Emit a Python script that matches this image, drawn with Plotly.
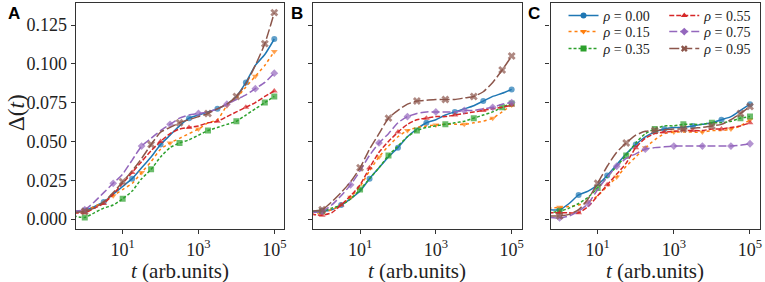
import plotly.graph_objects as go

# time grid (arb. units)
T = [0.5, 1, 1.78, 3.16, 5.62, 10, 17.8, 31.6, 56.2, 100, 178, 316, 562,
     1000, 1780, 3160, 5620, 10000, 17800, 31600, 56200, 100000]

RHO_LABELS = ["0.00", "0.15", "0.35", "0.55", "0.75", "0.95"]

# Panel A
A_000 = [0.005, 0.0055, 0.008, 0.011, 0.016, 0.021, 0.026, 0.033, 0.040, 0.048, 0.054, 0.060, 0.065, 0.067, 0.069, 0.071, 0.074, 0.079, 0.088, 0.099, 0.106, 0.116]
A_015 = [0.005, 0.0055, 0.008, 0.011, 0.015, 0.019, 0.023, 0.030, 0.037, 0.045, 0.049, 0.052, 0.055, 0.058, 0.062, 0.064, 0.073, 0.078, 0.085, 0.092, 0.099, 0.108]
A_035 = [0.002, 0.001, 0.004, 0.007, 0.009, 0.013, 0.018, 0.026, 0.032, 0.040, 0.046, 0.049, 0.051, 0.054, 0.057, 0.059, 0.061, 0.063, 0.067, 0.071, 0.075, 0.079]
A_055 = [0.004, 0.004, 0.007, 0.010, 0.016, 0.023, 0.030, 0.037, 0.044, 0.050, 0.055, 0.058, 0.059, 0.060, 0.062, 0.063, 0.066, 0.069, 0.072, 0.075, 0.079, 0.0825]
A_075 = [0.005, 0.006, 0.011, 0.017, 0.023, 0.029, 0.038, 0.047, 0.052, 0.057, 0.061, 0.065, 0.067, 0.068, 0.069, 0.071, 0.074, 0.077, 0.080, 0.084, 0.088, 0.094]
A_095 = [0.004, 0.005, 0.007, 0.011, 0.017, 0.024, 0.031, 0.039, 0.048, 0.056, 0.059, 0.062, 0.064, 0.066, 0.068, 0.071, 0.074, 0.079, 0.087, 0.099, 0.113, 0.133]

# Panel B
B_000 = [0.005, 0.005, 0.006, 0.009, 0.013, 0.018, 0.026, 0.033, 0.040, 0.046, 0.053, 0.058, 0.062, 0.064, 0.067, 0.069, 0.071, 0.073, 0.076, 0.079, 0.081, 0.0835]
B_015 = [0.004, 0.004, 0.006, 0.009, 0.014, 0.021, 0.031, 0.040, 0.047, 0.053, 0.057, 0.059, 0.060, 0.0605, 0.061, 0.061, 0.061, 0.062, 0.063, 0.065, 0.069, 0.0735]
B_035 = [0.005, 0.005, 0.007, 0.009, 0.013, 0.019, 0.026, 0.033, 0.041, 0.047, 0.053, 0.057, 0.059, 0.060, 0.061, 0.062, 0.063, 0.065, 0.067, 0.069, 0.072, 0.0745]
B_055 = [0.003, 0.0025, 0.004, 0.009, 0.015, 0.022, 0.033, 0.043, 0.050, 0.056, 0.061, 0.064, 0.065, 0.066, 0.066, 0.067, 0.068, 0.069, 0.070, 0.071, 0.072, 0.0735]
B_075 = [0.004, 0.005, 0.009, 0.015, 0.022, 0.031, 0.041, 0.049, 0.055, 0.062, 0.066, 0.068, 0.069, 0.069, 0.069, 0.069, 0.070, 0.070, 0.071, 0.072, 0.074, 0.075]
B_095 = [0.005, 0.006, 0.011, 0.017, 0.024, 0.033, 0.045, 0.055, 0.065, 0.070, 0.074, 0.076, 0.0765, 0.077, 0.077, 0.077, 0.078, 0.079, 0.082, 0.088, 0.096, 0.105]

# Panel C
C_000 = [0.006, 0.006, 0.010, 0.0155, 0.018, 0.022, 0.028, 0.035, 0.042, 0.048, 0.053, 0.056, 0.058, 0.059, 0.059, 0.060, 0.061, 0.062, 0.064, 0.066, 0.070, 0.074]
C_015 = [0.007, 0.0075, 0.008, 0.009, 0.011, 0.015, 0.021, 0.027, 0.034, 0.040, 0.046, 0.051, 0.055, 0.056, 0.056, 0.056, 0.056, 0.057, 0.057, 0.058, 0.060, 0.064]
C_035 = [0.004, 0.005, 0.007, 0.010, 0.014, 0.020, 0.027, 0.034, 0.041, 0.049, 0.055, 0.058, 0.060, 0.060, 0.061, 0.061, 0.061, 0.062, 0.062, 0.063, 0.065, 0.066]
C_055 = [0.004, 0.004, 0.004, 0.004, 0.008, 0.015, 0.022, 0.029, 0.036, 0.046, 0.052, 0.055, 0.056, 0.0565, 0.057, 0.057, 0.057, 0.058, 0.058, 0.059, 0.060, 0.062]
C_075 = [0.001, 0.0007, 0.002, 0.005, 0.010, 0.019, 0.027, 0.034, 0.039, 0.042, 0.045, 0.046, 0.0465, 0.047, 0.047, 0.047, 0.047, 0.047, 0.047, 0.047, 0.0475, 0.0485]
C_095 = [0.002, 0.002, 0.003, 0.006, 0.013, 0.023, 0.034, 0.043, 0.049, 0.054, 0.0565, 0.057, 0.0575, 0.058, 0.058, 0.0585, 0.059, 0.060, 0.061, 0.064, 0.068, 0.0725]

Y_TICKS = [0.000, 0.025, 0.050, 0.075, 0.100, 0.125]
Y_TICKTEXT = ["0.000", "0.025", "0.050", "0.075", "0.100", "0.125"]
X_TICKS = [10, 1000, 100000]
X_TICKTEXT = ["10<sup>1</sup>", "10<sup>3</sup>", "10<sup>5</sup>"]
PANEL_LETTERS = ["A", "B", "C"]

PANELS = [
    [A_000, A_015, A_035, A_055, A_075, A_095],
    [B_000, B_015, B_035, B_055, B_075, B_095],
    [C_000, C_015, C_035, C_055, C_075, C_095],
]

COLORS = ["#1f77b4", "#ff7f0e", "#2ca02c", "#d62728", "#9467bd", "#8c564b"]
DASHES = ["solid", "dot", "3px,2px", "5px,2px", "8px,3px", "10px,3px"]
SYMBOLS = ["circle", "triangle-down", "square", "triangle-up", "diamond", "x"]
MSIZE = 6

W, H = 765, 282
X_DOM = [(76, 285), (314, 523), (552, 762)]
Y_TOP, Y_BOT = 3, 229
SERIF = "'Liberation Serif', 'Times New Roman', serif"

fig = go.Figure()

for p, series in enumerate(PANELS):
    xa = "x" if p == 0 else f"x{p+1}"
    ya = "y" if p == 0 else f"y{p+1}"
    for k, vals in enumerate(series):
        off = k % 3
        marks = set([1, len(T) - 1] + list(range(3 + off, len(T) - 1, 3)))
        sizes = [(MSIZE + (1 if k == 5 else 0)) if i in marks else 0 for i in range(len(T))]
        fig.add_trace(go.Scatter(
            x=T, y=vals, xaxis=xa, yaxis=ya, mode="lines+markers",
            line=dict(color=COLORS[k], width=1.5, dash=DASHES[k], shape="spline", smoothing=0.6),
            marker=dict(symbol=SYMBOLS[k], size=sizes, color=COLORS[k], line=dict(width=0)),
            showlegend=False, hoverinfo="skip"))

# legend entries: one small legend per entry, arranged as 2 columns x 3 rows in panel C
LEG_COL_X = [565, 666]
LEG_ROW_Y = [18, 34, 51]
for k in range(6):
    lname = "legend" if k == 0 else f"legend{k+1}"
    fig.add_trace(go.Scatter(
        x=[None], y=[None], xaxis="x3", yaxis="y3", mode="lines+markers",
        name=f"<i>ρ</i> = {RHO_LABELS[k]}",
        line=dict(color=COLORS[k], width=1.5, dash=DASHES[k]),
        marker=dict(symbol=SYMBOLS[k], size=MSIZE, color=COLORS[k], line=dict(width=0)),
        legend=lname, showlegend=True))

ydom = [1 - Y_BOT / H, 1 - Y_TOP / H]
axis_common = dict(showline=True, mirror=True, linecolor="#333333", linewidth=1.3,
                   ticks="outside", ticklen=4, tickwidth=1, tickcolor="#333333",
                   showgrid=False, zeroline=False,
                   tickfont=dict(family=SERIF, size=18, color="#222222"))
layout = dict(width=W, height=H, margin=dict(l=0, r=0, t=0, b=0),
              paper_bgcolor="white", plot_bgcolor="white", showlegend=True)
for p in range(3):
    sx = "" if p == 0 else str(p + 1)
    layout["xaxis" + sx] = dict(axis_common, type="log", range=[-0.237, 5.263],
                                domain=[X_DOM[p][0] / W, X_DOM[p][1] / W],
                                anchor="y" + sx, tickvals=X_TICKS, ticktext=X_TICKTEXT)
    layout["yaxis" + sx] = dict(axis_common, range=[-0.00644, 0.1392], domain=ydom,
                                anchor="x" + sx, tickvals=Y_TICKS, ticktext=Y_TICKTEXT,
                                showticklabels=(p == 0))

leg_common = dict(xanchor="left", yanchor="top", bgcolor="rgba(0,0,0,0)",
                  font=dict(family=SERIF, size=14, color="#222222"),
                  itemwidth=30, tracegroupgap=0, borderwidth=0)
for k in range(6):
    lname = "legend" if k == 0 else f"legend{k+1}"
    col, row = k // 3, k % 3
    layout[lname] = dict(leg_common, x=LEG_COL_X[col] / W, y=1 - (LEG_ROW_Y[row] - 18) / H)

annotations = []
for p in range(3):
    cx = (X_DOM[p][0] + X_DOM[p][1]) / 2
    annotations.append(dict(x=cx / W, y=1 - 271 / H, xref="paper", yref="paper",
                            text="<i>t</i> (arb.units)", showarrow=False,
                            font=dict(family=SERIF, size=21, color="#222222"),
                            xanchor="center", yanchor="middle"))
    lx = [6, 290, 527][p]
    annotations.append(dict(x=lx / W, y=1 - 13 / H, xref="paper", yref="paper",
                            text=f"<b>{PANEL_LETTERS[p]}</b>", showarrow=False,
                            font=dict(family="Liberation Sans", size=17, color="black"),
                            xanchor="left", yanchor="middle"))
annotations.append(dict(x=16 / W, y=1 - 112 / H, xref="paper", yref="paper",
                        text="Δ(<i>t</i>)", showarrow=False, textangle=-90,
                        font=dict(family=SERIF, size=23, color="#222222"),
                        xanchor="center", yanchor="middle"))
layout["annotations"] = annotations

fig.update_layout(**layout)
fig.write_html("out.html", config={"displayModeBar": False},
               post_script="document.body.style.margin='0';document.body.style.padding='0';")
